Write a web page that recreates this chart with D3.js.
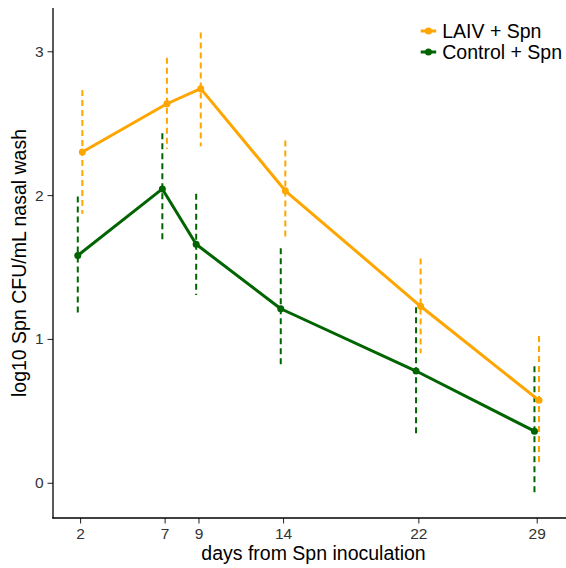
<!DOCTYPE html>
<html>
<head>
<meta charset="utf-8">
<script src="https://cdn.jsdelivr.net/npm/d3@7"></script>
<style>
  html, body { margin: 0; padding: 0; background: #fff; }
  svg { display: block; font-family: "Liberation Sans", Arial, sans-serif; }
</style>
</head>
<body>
<svg id="chart" width="566" height="568"></svg>
<script>
// ---- data ----
const days = [2, 7, 9, 14, 22, 29];
const seriesNames = ["LAIV + Spn", "Control + Spn"];
const seriesColors = ["#FFA500", "#006400"];
const laivMean = [2.30, 2.635, 2.74, 2.03, 1.227, 0.573];
const laivLow  = [1.87, 2.32, 2.34, 1.69, 0.90, 0.118];
const laivHigh = [2.73, 2.955, 3.13, 2.38, 1.56, 1.02];
const ctrlMean = [1.58, 2.043, 1.658, 1.21, 0.777, 0.359];
const ctrlLow  = [1.18, 1.667, 1.306, 0.80, 0.336, -0.093];
const ctrlHigh = [1.99, 2.43, 2.01, 1.63, 1.22, 0.81];
const yTicks = [0, 1, 2, 3];
const xTitle = "days from Spn inoculation";
const yTitle = "log10 Spn CFU/mL nasal wash";

(function () {
const series = [
  { name: seriesNames[0], color: seriesColors[0], dodge: 0.135,
    pts: days.map((d, i) => ({ d, m: laivMean[i], lo: laivLow[i], hi: laivHigh[i] })) },
  { name: seriesNames[1], color: seriesColors[1], dodge: -0.135,
    pts: days.map((d, i) => ({ d, m: ctrlMean[i], lo: ctrlLow[i], hi: ctrlHigh[i] })) }
];

const svg = d3.select("#chart");
const pLeft = 53, pRight = 566, pTop = 8, pBottom = 518;

const x = d3.scaleLinear().domain([0.4, 30.73]).range([pLeft, pRight]);
const y = d3.scaleLinear().domain([-0.2447, 3.3006]).range([pBottom, pTop]);

// error bars
series.forEach(s => {
  svg.append("g").selectAll("line").data(s.pts).join("line")
    .attr("x1", p => x(p.d + s.dodge)).attr("x2", p => x(p.d + s.dodge))
    .attr("y1", p => y(p.hi)).attr("y2", p => y(p.lo))
    .attr("stroke", s.color).attr("stroke-width", 2)
    .attr("stroke-dasharray", "6,4");
});

// lines
const line = d3.line().x(p => x(p.d + p.dg)).y(p => y(p.m));
series.forEach(s => {
  svg.append("path")
    .datum(s.pts.map(p => ({ ...p, dg: s.dodge })))
    .attr("d", line).attr("fill", "none")
    .attr("stroke", s.color).attr("stroke-width", 3)
    .attr("stroke-linejoin", "round");
});

// points
series.forEach(s => {
  svg.append("g").selectAll("circle").data(s.pts).join("circle")
    .attr("cx", p => x(p.d + s.dodge)).attr("cy", p => y(p.m))
    .attr("r", 3.5).attr("fill", s.color);
});

// axes
const yAxis = d3.axisLeft(y).tickValues(yTicks).tickSize(5.5).tickPadding(4).tickFormat(d3.format("d"));
const gy = svg.append("g").attr("transform", `translate(${pLeft},0)`).call(yAxis);
gy.select(".domain").remove();
gy.append("line").attr("x1", 0).attr("x2", 0).attr("y1", pTop).attr("y2", pBottom + 0.6)
  .attr("stroke", "#000").attr("stroke-width", 1.3);

const xAxis = d3.axisBottom(x).tickValues(days).tickSize(5.5).tickPadding(4).tickFormat(d3.format("d"));
const gx = svg.append("g").attr("transform", `translate(0,${pBottom})`).call(xAxis);
gx.select(".domain").remove();
gx.append("line").attr("x1", pLeft - 0.6).attr("x2", pRight).attr("y1", 0).attr("y2", 0)
  .attr("stroke", "#000").attr("stroke-width", 1.3);

[gx, gy].forEach(g => {
  g.selectAll(".tick line").attr("stroke", "#333").attr("stroke-width", 1.1);
  g.selectAll(".tick text").attr("fill", "#333").style("font-size", "15.5px")
    .style("font-family", "'Liberation Sans', Arial, sans-serif");
});

// titles
svg.append("text").attr("x", (pLeft + pRight) / 2 + 4).attr("y", 560)
  .attr("text-anchor", "middle").style("font-size", "19.5px").attr("fill", "#000")
  .text(xTitle);
svg.append("text").attr("transform", `translate(26,${(pTop + pBottom) / 2}) rotate(-90)`)
  .attr("text-anchor", "middle").style("font-size", "19.5px").attr("fill", "#000")
  .text(yTitle);

// legend
const lg = svg.append("g").attr("transform", "translate(420.7,31)");
series.forEach((s, i) => {
  const g = lg.append("g").attr("transform", `translate(0,${i * 21})`);
  g.append("line").attr("x1", 0).attr("x2", 15.5).attr("y1", 0).attr("y2", 0)
    .attr("stroke", s.color).attr("stroke-width", 3);
  g.append("circle").attr("cx", 7.75).attr("cy", 0).attr("r", 3.5).attr("fill", s.color);
  g.append("text").attr("x", 21.5).attr("y", 0).attr("dy", "0.35em")
    .style("font-size", "19.5px").attr("fill", "#000").text(s.name);
});
})();
</script>
</body>
</html>
